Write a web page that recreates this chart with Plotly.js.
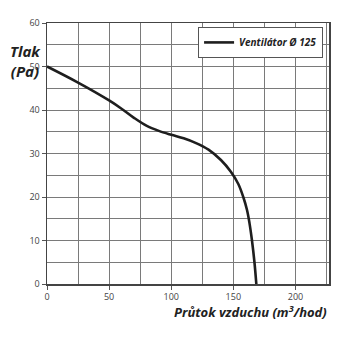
<!DOCTYPE html>
<html>
<head>
<meta charset="utf-8">
<script src="https://cdn.plot.ly/plotly-3.0.1.min.js"></script>
<style>html,body{margin:0;padding:0;background:#fff;}#chart{width:362px;height:343px;}</style>
</head>
<body>
<div id="chart"></div>
<script>
const seriesName = "Ventilátor Ø 125";
const flow = [0, 25, 50, 60, 70, 80, 90, 100, 110, 120, 130, 140, 148, 154, 158, 161, 163, 165, 167, 168.5];
const pressure = [50, 46.3, 42.2, 40.3, 38.2, 36.4, 35.2, 34.3, 33.5, 32.4, 30.9, 28.5, 25.8, 23, 20, 17, 14, 10, 5, 0];
const xTicks = [0, 50, 100, 150, 200];
const yTicks = [0, 10, 20, 30, 40, 50, 60];
const xTitle = "Průtok vzduchu (m<sup>3</sup>/hod)";
const yTitle = "Tlak<br>(Pa)";

const fontFam = "'Open Sans', 'DejaVu Sans', sans-serif";
const trace = {
  x: flow, y: pressure, type: 'scatter', mode: 'lines', name: seriesName,
  line: {color: '#1e1e1e', width: 2.6, shape: 'spline', smoothing: 1}
};
const gridColor = '#7a7a7a';
const layout = {
  width: 362, height: 343,
  margin: {l: 47, r: 33, t: 23, b: 59},
  paper_bgcolor: '#fff', plot_bgcolor: '#fff',
  font: {family: fontFam, color: '#444', size: 9},
  showlegend: true,
  legend: {
    x: 0.979, y: 0.985, xanchor: 'right', yanchor: 'top',
    bgcolor: '#fff', bordercolor: '#555', borderwidth: 1,
    font: {family: fontFam, size: 10, color: '#222', weight: 'bold', style: 'italic'}
  },
  xaxis: {
    range: [0, 227], tickvals: xTicks, ticktext: xTicks.map(String),
    showgrid: false, zeroline: false,
    showline: true, linecolor: '#444', linewidth: 1.5, mirror: true,
    ticks: 'outside', ticklen: 4, tickcolor: '#555',
    minor: {dtick: 25, showgrid: true, gridcolor: gridColor, gridwidth: 1},
    fixedrange: true
  },
  yaxis: {
    range: [0, 60], tickvals: yTicks, ticktext: yTicks.map(String),
    showgrid: false, zeroline: false,
    showline: true, linecolor: '#444', linewidth: 1.5, mirror: true,
    ticks: 'outside', ticklen: 4, tickcolor: '#555',
    minor: {dtick: 5, showgrid: true, gridcolor: gridColor, gridwidth: 1},
    fixedrange: true
  },
  annotations: [
    {text: yTitle, xref: 'paper', yref: 'paper', x: -0.015, y: 0.855, xanchor: 'right', yanchor: 'middle',
     showarrow: false, align: 'center',
     font: {family: fontFam, size: 15, color: '#222', weight: 'bold', style: 'italic'}},
    {text: xTitle, xref: 'paper', yref: 'paper', x: 1.0, y: -0.105, xanchor: 'right', yanchor: 'middle',
     showarrow: false,
     font: {family: fontFam, size: 13, color: '#222', weight: 'bold', style: 'italic'}}
  ]
};
Plotly.newPlot('chart', [trace], layout, {staticPlot: true, displayModeBar: false});
</script>
</body>
</html>
